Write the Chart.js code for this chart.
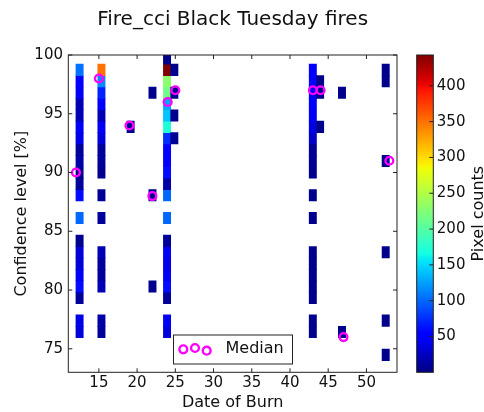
<!DOCTYPE html>
<html>
<head>
<meta charset="utf-8">
<title>Fire_cci Black Tuesday fires</title>
<script src="https://cdn.jsdelivr.net/npm/chart.js@4.4.0/dist/chart.umd.min.js"></script>
<style>
  html, body { margin: 0; padding: 0; background: #fff; }
</style>
</head>
<body>
<canvas id="burnChart" width="484" height="412"></canvas>
<script>
// Burn days that have detections, and the median confidence of each day
const burnDays = [12, 15, 19, 22, 24, 25, 43, 44, 47, 53];
const medianConfidence = [90, 98, 94, 88, 96, 97, 97, 97, 76, 91];

// Pixel counts per confidence bin, lowest bin (74 %) first, 27 bins
const countsDay12 = [0, 0, 35, 40, 0, 10, 60, 45, 34, 34, 6, 0, 100, 0, 60, 10, 5, 15, 10, 40, 45, 20, 20, 45, 55, 105, 0];
const countsDay15 = [0, 0, 10, 15, 0, 0, 20, 10, 10, 20, 0, 0, 10, 0, 8, 0, 6, 10, 10, 35, 45, 20, 50, 70, 116, 350, 0];
const countsDay19 = [0, 0, 0, 0, 0, 0, 0, 0, 0, 0, 0, 0, 0, 0, 0, 0, 0, 0, 0, 0, 5, 0, 0, 0, 0, 0, 0];
const countsDay22 = [0, 0, 0, 0, 0, 0, 5, 0, 0, 0, 0, 0, 0, 0, 5, 0, 0, 0, 0, 0, 0, 0, 0, 5, 0, 0, 0];
const countsDay24 = [0, 0, 35, 45, 0, 10, 60, 45, 40, 45, 10, 0, 100, 0, 100, 15, 60, 55, 50, 75, 172, 140, 128, 215, 230, 443, 5];
const countsDay25 = [0, 0, 0, 0, 0, 0, 0, 0, 0, 0, 0, 0, 0, 0, 0, 0, 0, 0, 0, 8, 0, 5, 0, 5, 0, 5, 0];
const countsDay43 = [0, 0, 6, 6, 0, 5, 5, 5, 5, 5, 0, 0, 5, 0, 5, 0, 6, 8, 8, 28, 38, 45, 52, 45, 50, 55, 0];
const countsDay44 = [0, 0, 0, 0, 0, 0, 0, 0, 0, 0, 0, 0, 0, 0, 0, 0, 0, 0, 0, 0, 5, 0, 0, 5, 5, 0, 0];
const countsDay47 = [0, 0, 5, 0, 0, 0, 0, 0, 0, 0, 0, 0, 0, 0, 0, 0, 0, 0, 0, 0, 0, 0, 0, 5, 0, 0, 0];
const countsDay53 = [5, 0, 0, 5, 0, 0, 0, 0, 0, 5, 0, 0, 0, 0, 0, 0, 0, 5, 0, 0, 0, 0, 0, 0, 5, 5, 0];
const countsByDay = [countsDay12, countsDay15, countsDay19, countsDay22, countsDay24,
                     countsDay25, countsDay43, countsDay44, countsDay47, countsDay53];

const dayTicks = [15, 20, 25, 30, 35, 40, 45, 50];
const confidenceTicks = [75, 80, 85, 90, 95, 100];
const countTicks = [50, 100, 150, 200, 250, 300, 350, 400];

// 2D histogram bins
const dayBinStart = 12, dayBinCount = 43, dayBinWidth = (53 - 12) / 43;
const confBinStart = 74, confBinHeight = 0.97;
const countMin = 0, countMax = 443;

// matplotlib "jet"
const jetSegments = {
    r: [[0, 0], [0.35, 0], [0.66, 1], [0.89, 1], [1, 0.5]],
    g: [[0, 0], [0.125, 0], [0.375, 1], [0.64, 1], [0.91, 0], [1, 0]],
    b: [[0, 0.5], [0.11, 1], [0.34, 1], [0.65, 0], [1, 0]]
};
function interp(seg, t) {
    for (let i = 1; i < seg.length; i++) {
        if (t <= seg[i][0]) {
            const [x0, y0] = seg[i - 1], [x1, y1] = seg[i];
            return y0 + (y1 - y0) * (t - x0) / (x1 - x0);
        }
    }
    return seg[seg.length - 1][1];
}
function jet(t) {
    t = Math.min(1, Math.max(0, t));
    const c = ['r', 'g', 'b'].map(k => Math.round(255 * interp(jetSegments[k], t)));
    return `rgb(${c.join(',')})`;
}
const countColor = v => jet((v - countMin) / (countMax - countMin));

// one floating bar per non-empty histogram cell
const cells = [];
burnDays.forEach((day, i) => {
    const bin = Math.min(Math.floor((day - dayBinStart) / dayBinWidth), dayBinCount - 1);
    const x = dayBinStart + (bin + 0.5) * dayBinWidth;
    countsByDay[i].forEach((count, j) => {
        if (count > 0) {
            cells.push({ x, y: [confBinStart + j * confBinHeight, confBinStart + (j + 1) * confBinHeight], count });
        }
    });
});

const FONT = "'DejaVu Sans', 'Liberation Sans', sans-serif";
Chart.defaults.font.family = FONT;
Chart.defaults.color = '#111';

// Frame with inward tick marks on all four sides
const axesFrame = {
    id: 'axesFrame',
    afterDatasetsDraw(chart) {
        const { ctx, chartArea: a, scales: { x, y } } = chart;
        ctx.save();
        ctx.strokeStyle = '#222';
        ctx.lineWidth = 1;
        ctx.beginPath();
        dayTicks.forEach(v => {
            const px = x.getPixelForValue(v);
            ctx.moveTo(px, a.bottom); ctx.lineTo(px, a.bottom - 4);
            ctx.moveTo(px, a.top); ctx.lineTo(px, a.top + 4);
        });
        confidenceTicks.forEach(v => {
            const py = y.getPixelForValue(v);
            ctx.moveTo(a.left, py); ctx.lineTo(a.left + 4, py);
            ctx.moveTo(a.right, py); ctx.lineTo(a.right - 4, py);
        });
        ctx.stroke();
        ctx.strokeRect(a.left, a.top, a.right - a.left, a.bottom - a.top);
        ctx.restore();
    }
};

// Legend box for the median markers
const medianLegend = {
    id: 'medianLegend',
    afterDatasetsDraw(chart) {
        const { ctx } = chart;
        const ds = chart.data.datasets[0];
        ctx.save();
        ctx.fillStyle = '#fff';
        ctx.strokeStyle = '#222';
        ctx.lineWidth = 1;
        ctx.fillRect(173.5, 335, 119, 29);
        ctx.strokeRect(173.5, 335, 119, 29);
        ctx.strokeStyle = ds.borderColor;
        ctx.lineWidth = ds.borderWidth;
        [[183.3, 349.3], [195, 348], [206.7, 350.7]].forEach(([cx, cy]) => {
            ctx.beginPath();
            ctx.arc(cx, cy, ds.pointRadius, 0, Math.PI * 2);
            ctx.stroke();
        });
        ctx.fillStyle = '#111';
        ctx.font = '16px ' + FONT;
        ctx.textBaseline = 'middle';
        ctx.fillText(ds.label, 225.5, 349);
        ctx.restore();
    }
};

// Colour bar for the pixel counts, placed right of the plot
const colorbar = {
    id: 'colorbar',
    afterDraw(chart) {
        const { ctx } = chart;
        const s = chart.scales.cbar;
        const left = 416.7, width = 16.6;
        const top = s.getPixelForValue(countMax), bottom = s.getPixelForValue(countMin);
        const grad = ctx.createLinearGradient(0, bottom, 0, top);
        for (let i = 0; i <= 64; i++) grad.addColorStop(i / 64, jet(i / 64));
        ctx.save();
        ctx.fillStyle = grad;
        ctx.fillRect(left, top, width, bottom - top);
        ctx.strokeStyle = '#222';
        ctx.lineWidth = 1;
        ctx.strokeRect(left, top, width, bottom - top);
        ctx.font = '15px ' + FONT;
        ctx.fillStyle = '#111';
        ctx.textBaseline = 'middle';
        ctx.textAlign = 'left';
        ctx.beginPath();
        countTicks.forEach(v => {
            const py = s.getPixelForValue(v);
            ctx.moveTo(left + width, py); ctx.lineTo(left + width - 4, py);
            ctx.fillText(String(v), left + width + 3.5, py);
        });
        ctx.stroke();
        ctx.translate(479, (top + bottom) / 2);
        ctx.rotate(-Math.PI / 2);
        ctx.textAlign = 'center';
        ctx.font = '16px ' + FONT;
        ctx.fillText('Pixel counts', 0, 0);
        ctx.restore();
    }
};

new Chart(document.getElementById('burnChart'), {
    type: 'bar',
    data: {
        datasets: [
            {
                type: 'scatter',
                label: 'Median',
                data: burnDays.map((d, i) => ({ x: d, y: medianConfidence[i] })),
                pointStyle: 'circle',
                pointRadius: 3.9,
                borderWidth: 2.4,
                borderColor: '#ff00ff',
                backgroundColor: 'rgba(0,0,0,0)'
            },
            {
                label: 'Pixel counts',
                data: cells,
                backgroundColor: ctx => countColor(ctx.raw.count),
                borderWidth: 0,
                barPercentage: 1,
                categoryPercentage: 1
            }
        ]
    },
    options: {
        responsive: false,
        animation: false,
        events: [],
        layout: { padding: { left: 0, right: 87, top: 0, bottom: 0 } },
        plugins: {
            legend: { display: false },
            tooltip: { enabled: false },
            title: {
                display: true,
                fullSize: false,
                text: 'Fire_cci Black Tuesday fires',
                color: '#111',
                font: { size: 20, weight: 'normal' },
                padding: { top: 8, bottom: 23 }
            }
        },
        scales: {
            x: {
                type: 'linear',
                min: 11,
                max: 54,
                offset: false,
                grid: { display: false, drawTicks: false },
                border: { display: false },
                afterBuildTicks: s => { s.ticks = dayTicks.map(v => ({ value: v })); },
                afterFit: s => { s.height = 39.7; },
                ticks: { font: { size: 15 }, padding: 2, maxRotation: 0, autoSkip: false },
                title: { display: true, text: 'Date of Burn', font: { size: 16 }, padding: { top: 0, bottom: 0 } }
            },
            y: {
                type: 'linear',
                min: 73,
                max: 100,
                beginAtZero: false,
                grid: { display: false, drawTicks: false },
                border: { display: false },
                afterBuildTicks: s => { s.ticks = confidenceTicks.map(v => ({ value: v })); },
                afterFit: s => { s.width = 68.3; },
                ticks: { font: { size: 15 }, padding: 5.3, autoSkip: false },
                title: { display: true, text: 'Confidence level [%]', font: { size: 16 }, padding: { top: 12.4, bottom: 0 } }
            },
            cbar: {
                type: 'linear',
                axis: 'y',
                position: 'right',
                display: false,
                min: countMin,
                max: countMax
            }
        }
    },
    plugins: [axesFrame, medianLegend, colorbar]
});
</script>
</body>
</html>
